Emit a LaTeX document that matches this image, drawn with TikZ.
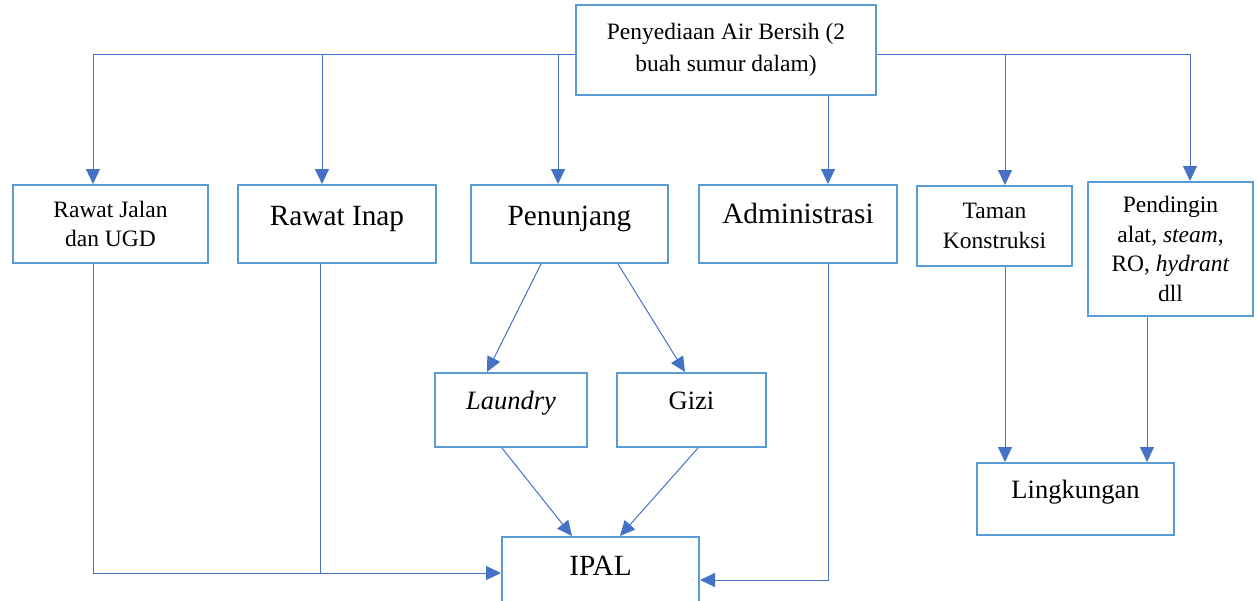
\documentclass[tikz,border=0pt]{standalone}
\usepackage{fontspec}
\setmainfont{Liberation Serif}
\usetikzlibrary{arrows.meta, calc, positioning}
\definecolor{boxblue}{RGB}{91, 155, 213}
\definecolor{lineblue}{RGB}{68, 114, 196}
\newcommand{\fsmall}{\fontsize{23.5}{29.5}\selectfont}
\newcommand{\fmid}{\fontsize{26.5}{31}\selectfont}
\newcommand{\fbig}{\fontsize{29.3}{34}\selectfont}
\tikzset{
    rectanglenode/.style = {draw=boxblue, line width=2pt, rectangle, inner sep=0pt, 
      node distance=0em, font=\fsmall},
    connect/.style = {lineblue, line width=1pt, -{Triangle[length=15pt, width=14pt]}},
    plainline/.style = {lineblue, line width=1pt},
    every text node part/.style={align=center}
}

\begin{document}
\begin{tikzpicture}[x=1pt, y=-1pt]
\useasboundingbox (0,0) rectangle (1257,600);
\clip (0,0) rectangle (1257,600);

\node[rectanglenode, name=src, minimum width=300pt, minimum height=90pt, 
	font=\fontsize{23.5}{31.5}\selectfont] at (726,50) {Penyediaan Air Bersih (2\\buah sumur dalam)};

\node[rectanglenode, name=jalan, minimum width=195pt, minimum height=78pt] at (110.5,224) {Rawat Jalan\\dan UGD};
\node[rectanglenode, name=inap, right of = jalan, xshift=226.5pt, minimum width=198pt, font=\fbig, 
	text height=40pt, text depth=38pt] {Rawat Inap};
\node[rectanglenode, name=penunjang, right of = inap, xshift=232.5pt, minimum width=197pt, font=\fbig, 
	text height=40pt, text depth=38pt] {Penunjang};
\node[rectanglenode, name=admin, right of = penunjang, xshift=228.5pt, minimum width=198pt, font=\fbig, 
	text height=38pt, text depth=40pt] {Administrasi};
\node[rectanglenode, name=taman, right of = admin, xshift=196.5pt, yshift=-2pt, minimum width=155pt, 
	minimum height=80pt] {Taman\\Konstruksi};
\node[rectanglenode, name=pending, right of = taman, xshift=176pt, yshift=-23pt, minimum width=165pt, 
	minimum height=134pt] {Pendingin\\alat, \textit{steam},\\RO, \textit{hydrant}\\dll};

\node[rectanglenode, name=laundry, below of = penunjang, xshift=-58.5pt, yshift=-186pt, minimum width=152pt, 
	font=\fmid, text height=36pt, text depth=38pt] {\textit{Laundry}};
\node[rectanglenode, name=gizi, right of = laundry, xshift=180.5pt, minimum width=149pt, 
	font=\fmid, text height=36pt, text depth=38pt] {Gizi};
\node[rectanglenode, name=ipal, minimum width=197pt, font=\fbig, 
	text height=38pt, text depth=40pt] at (600.5,576) {IPAL};
\node[rectanglenode, name=lingk, minimum width=197pt, font=\fmid, 
	text height=35pt, text depth=37pt] at (1075.5,499) {Lingkungan};

% air bersih ke tiap unit
\coordinate (trunkL) at ([yshift=-4pt]src.west);
\coordinate (trunkR) at ([yshift=-4pt]src.east);
\draw[connect] (trunkL) -| ([xshift=-17.5pt]jalan.north);
\draw[connect] (trunkL) -| ([xshift=-15pt]inap.north);
\draw[connect] (trunkL) -| ([xshift=-11.5pt]penunjang.north);
\draw[connect] (trunkR) -| ([xshift=10.5pt]taman.north);
\draw[connect] (trunkR) -| ([xshift=19.5pt]pending.north);
\draw ([xshift=30pt]admin.north |- src.south) edge[connect] ([xshift=30pt]admin.north);

% limbah ke IPAL
\coordinate (jInap) at ([xshift=-17pt, yshift=3pt]inap.south |- ipal.west);
\draw[connect] ([xshift=-17.5pt]jalan.south) |- ([yshift=3pt]ipal.west);
\draw[plainline] ([xshift=-17pt]inap.south) -- (jInap);
\draw[connect] ([xshift=30pt]admin.south) |- ([yshift=-4pt]ipal.east);
\draw ([xshift=-28.5pt]penunjang.south) edge[connect] ([xshift=-24pt]laundry.north);
\draw ([xshift=48.5pt]penunjang.south) edge[connect] ([xshift=-6.5pt]gizi.north);
\draw ([xshift=-9pt]laundry.south) edge[connect] ([xshift=-28.5pt]ipal.north);
\draw ([xshift=6.5pt]gizi.south) edge[connect] ([xshift=19.5pt]ipal.north);

% ke lingkungan
\draw ([xshift=10.5pt]taman.south) edge[connect] ([xshift=10.5pt]taman.south |- lingk.north);
\draw ([xshift=-23.5pt]pending.south) edge[connect] ([xshift=-23.5pt]pending.south |- lingk.north);
\end{tikzpicture}
\end{document}
